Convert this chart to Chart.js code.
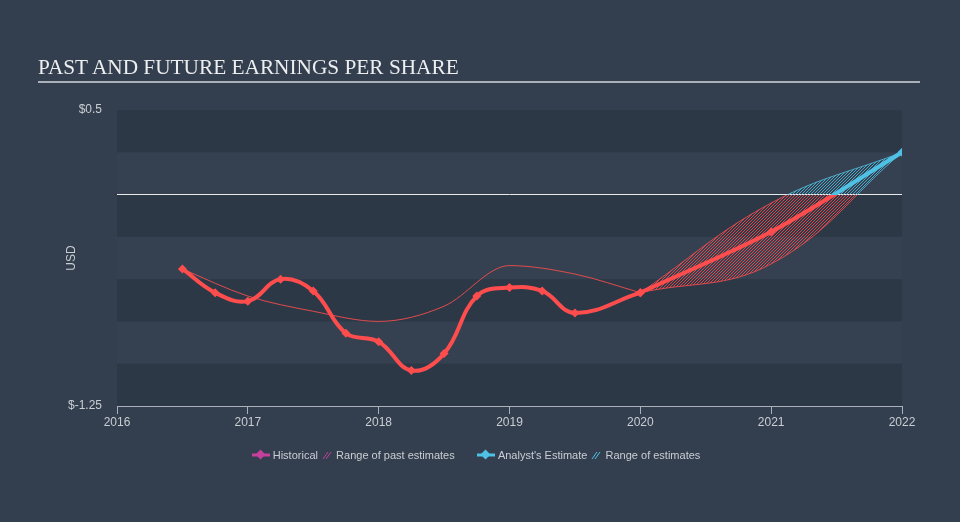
<!DOCTYPE html>
<html>
<head>
<meta charset="utf-8">
<script src="https://cdn.jsdelivr.net/npm/chart.js@4.4.1/dist/chart.umd.min.js"></script>
<style>
  html, body { margin: 0; padding: 0; }
  body { width: 960px; height: 522px; background: #333f4e; position: relative; overflow: hidden;
         font-family: "Liberation Sans", Arial, sans-serif; }
  #wrap { position: absolute; left: 0; top: 0; width: 960px; height: 522px; }
  .title { position: absolute; left: 38px; top: 55px; font-family: "Liberation Serif", "Times New Roman", serif;
           font-size: 21.3px; color: #eceef0; white-space: nowrap; }
  .rule { position: absolute; left: 38px; top: 81px; width: 882px; height: 2px; background: #a9b0b9; }
  .legend { position: absolute; left: -4px; width: 960px; top: 448px; text-align: center; font-size: 11px; color: #c9ced4; }
  .legend span { display: inline-block; vertical-align: middle; }
  .legend svg { vertical-align: middle; }
  .gap { width: 16px; }
</style>
</head>
<body>
<div id="wrap"><canvas id="epsChart" width="960" height="522"></canvas></div>
<div class="title">PAST AND FUTURE EARNINGS PER SHARE</div>
<div class="rule"></div>
<div class="legend">
  <svg width="18" height="12"><line x1="0" y1="6" x2="18" y2="6" stroke="#c4409c" stroke-width="3"/><rect x="5" y="2" width="7" height="7" fill="#c4409c" transform="rotate(45 8.5 5.5)"/></svg>
  <span>Historical</span>
  <svg width="12" height="12"><g stroke="#c4409c" stroke-width="1"><line x1="2" y1="10" x2="7" y2="3"/><line x1="5" y1="10" x2="10" y2="3"/></g></svg>
  <span>Range of past estimates</span>
  <span class="gap"></span>
  <svg width="18" height="12"><line x1="0" y1="6" x2="18" y2="6" stroke="#4fc1e4" stroke-width="3"/><rect x="5" y="2" width="7" height="7" fill="#4fc1e4" transform="rotate(45 8.5 5.5)"/></svg>
  <span>Analyst's Estimate</span>
  <svg width="12" height="12"><g stroke="#4fc1e4" stroke-width="1"><line x1="2" y1="10" x2="7" y2="3"/><line x1="5" y1="10" x2="10" y2="3"/></g></svg>
  <span>Range of estimates</span>
</div>
<script>
// ---- data ----
const histYears = [2016.5, 2016.75, 2017, 2017.25, 2017.5, 2017.75, 2018, 2018.25, 2018.5, 2018.75, 2019, 2019.25, 2019.5, 2020];
const histEps = [-0.44, -0.58, -0.63, -0.50, -0.57, -0.82, -0.87, -1.04, -0.94, -0.60, -0.55, -0.57, -0.70, -0.58];

const pastEstYears = [2016.5, 2017, 2017.5, 2018, 2018.5, 2019, 2019.5, 2020];
const pastEstEps = [-0.44, -0.60, -0.69, -0.75, -0.66, -0.42, -0.47, -0.58];

const estYears = [2020, 2021, 2022];
const estEps = [-0.58, -0.22, 0.25];
const estLow = [-0.58, -0.41, 0.25];
const estHigh = [-0.58, -0.05, 0.25];

const yTicks = [-1.25, 0, 0.5];
const xTicks = [2016, 2017, 2018, 2019, 2020, 2021, 2022];
const bandStops = [0.5, 0.25, 0, -0.25, -0.5, -0.75, -1.0, -1.25];

const RED = "#ff4d4d";
const BLUE = "#4fc1e4";

function pts(xs, ys) {
  return xs.map((x, i) => ({ x: x, y: ys[i] }));
}

// colour by sign: blue above zero, red below
function signGradient(ctx, pos, neg) {
  const chart = ctx.chart;
  const area = chart.chartArea;
  if (!area) return neg;
  const y0 = chart.scales.y.getPixelForValue(0);
  const t = Math.min(1, Math.max(0, (y0 - area.top) / (area.bottom - area.top)));
  const g = chart.ctx.createLinearGradient(0, area.top, 0, area.bottom);
  g.addColorStop(0, pos);
  g.addColorStop(t, pos);
  g.addColorStop(t, neg);
  g.addColorStop(1, neg);
  return g;
}

// diagonal hatch, red below zero, blue above
function hatchPattern(ctx) {
  const chart = ctx.chart;
  const area = chart.chartArea;
  if (!area) return "rgba(255,77,77,0.3)";
  const y0 = chart.scales.y.getPixelForValue(0);
  const c = document.createElement("canvas");
  c.width = chart.width;
  c.height = chart.height;
  const g = c.getContext("2d");
  const H = c.height;
  function lines(color) {
    g.strokeStyle = color;
    g.lineWidth = 1;
    g.beginPath();
    for (let x = -H; x < c.width + H; x += 3) {
      g.moveTo(x, H);
      g.lineTo(x + H, 0);
    }
    g.stroke();
  }
  g.save();
  g.beginPath(); g.rect(0, y0, c.width, H - y0); g.clip();
  lines("rgba(255,77,77,0.8)");
  g.restore();
  g.save();
  g.beginPath(); g.rect(0, 0, c.width, y0); g.clip();
  lines("rgba(79,193,228,0.8)");
  g.restore();
  return chart.ctx.createPattern(c, "no-repeat");
}

const bandPlugin = {
  id: "bands",
  beforeDraw(chart) {
    const { ctx, chartArea, scales } = chart;
    ctx.save();
    for (let i = 0; i < bandStops.length - 1; i++) {
      const top = scales.y.getPixelForValue(bandStops[i]);
      const bot = scales.y.getPixelForValue(bandStops[i + 1]);
      ctx.fillStyle = i % 2 === 0 ? "rgba(20,30,42,0.18)" : "rgba(255,255,255,0.012)";
      ctx.fillRect(chartArea.left, top, chartArea.right - chartArea.left, bot - top);
    }
    ctx.restore();
  }
};

const epsCtx = document.getElementById("epsChart");

new Chart(epsCtx, {
  type: "line",
  data: {
    datasets: [
      {
        label: "Historical",
        data: pts(histYears, histEps),
        borderColor: (c) => signGradient(c, BLUE, RED),
        borderWidth: 4,
        tension: 0.4,
        pointStyle: "rectRot",
        pointRadius: 4.5,
        pointBorderWidth: 0,
        pointBackgroundColor: (c) => (c.raw && c.raw.y >= 0 ? BLUE : RED),
        fill: false,
      },
      {
        label: "Analyst's Estimate",
        data: pts(estYears, estEps),
        borderColor: (c) => signGradient(c, BLUE, RED),
        borderWidth: 4,
        tension: 0.3,
        pointStyle: "rectRot",
        pointRadius: 4.5,
        pointBorderWidth: 0,
        pointBackgroundColor: (c) => (c.raw && c.raw.y >= 0 ? BLUE : RED),
        fill: false,
      },
      {
        label: "Range of past estimates",
        data: pts(pastEstYears, pastEstEps),
        borderColor: "rgba(255,77,77,0.85)",
        borderWidth: 1,
        cubicInterpolationMode: "monotone",
        pointRadius: 0,
        fill: false,
      },
      {
        label: "Estimate low",
        data: pts(estYears, estLow),
        borderColor: (c) => signGradient(c, "rgba(79,193,228,0.8)", "rgba(255,77,77,0.8)"),
        borderWidth: 1,
        tension: 0.4,
        pointRadius: 0,
        fill: false,
      },
      {
        label: "Estimate high",
        data: pts(estYears, estHigh),
        borderColor: (c) => signGradient(c, "rgba(79,193,228,0.8)", "rgba(255,77,77,0.8)"),
        borderWidth: 1,
        tension: 0.4,
        pointRadius: 0,
        backgroundColor: hatchPattern,
        fill: "-1",
      },
    ],
  },
  options: {
    responsive: false,
    animation: false,
    layout: { padding: { left: 58, right: 58, top: 110, bottom: 86 } },
    plugins: {
      legend: { display: false },
      tooltip: { enabled: false },
    },
    scales: {
      x: {
        type: "linear",
        min: 2016,
        max: 2022,
        afterBuildTicks: (s) => { s.ticks = xTicks.map((v) => ({ value: v })); },
        afterFit: (s) => { s.height = 30; },
        ticks: {
          color: "#c9ced4",
          font: { family: "'Liberation Sans', Arial, sans-serif", size: 12 },
          padding: 1,
          maxRotation: 0,
          callback: (v) => String(v),
        },
        grid: { drawOnChartArea: false, drawTicks: true, tickLength: 8, color: "#a9b0b9", lineWidth: 1 },
        border: { display: true, color: "#a9b0b9", width: 1 },
      },
      y: {
        type: "linear",
        min: -1.25,
        max: 0.5,
        afterBuildTicks: (s) => { s.ticks = yTicks.map((v) => ({ value: v })); },
        afterFit: (s) => { s.width = 59; },
        ticks: {
          color: "#c9ced4",
          font: { family: "'Liberation Sans', Arial, sans-serif", size: 12 },
          padding: 15,
          callback: (v) => (v === 0 ? "" : "$" + v),
        },
        grid: {
          drawTicks: false,
          color: (c) => (c.tick && c.tick.value === 0 ? "#e6e8ea" : "rgba(0,0,0,0)"),
          lineWidth: 1,
        },
        border: { display: false },
        title: {
          display: true,
          text: "USD",
          color: "#c9ced4",
          font: { family: "'Liberation Sans', Arial, sans-serif", size: 12 },
          padding: { top: 6, bottom: 0 },
        },
      },
    },
  },
  plugins: [bandPlugin],
});
</script>
</body>
</html>
